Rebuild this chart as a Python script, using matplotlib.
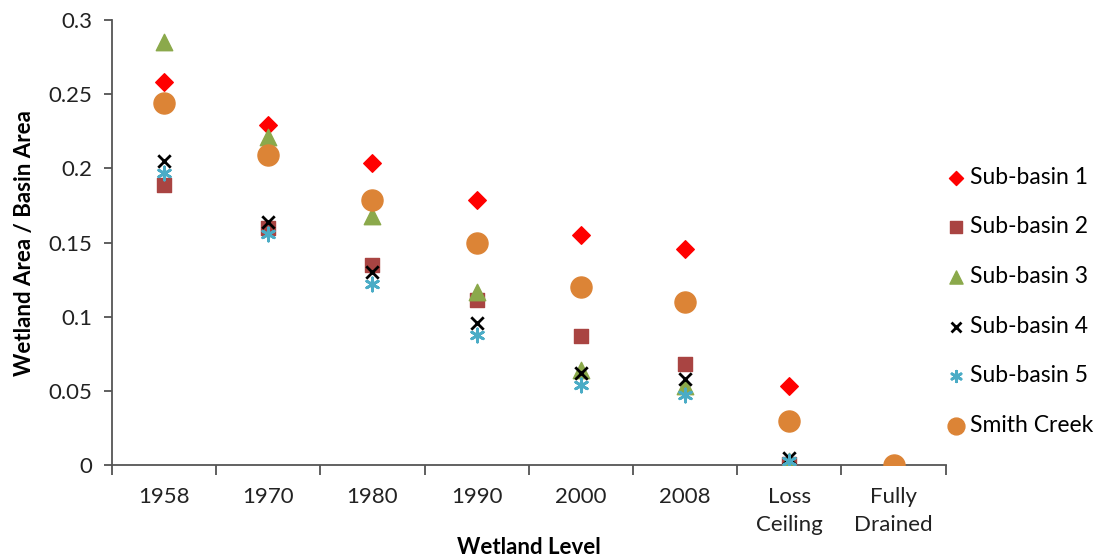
import numpy as np
from matplotlib import pyplot as plt

levels = ['1958', '1970', '1980', '1990', '2000', '2008', 'Loss\nCeiling', 'Fully\nDrained']

sub1 = [0.258, 0.229, 0.204, 0.179, 0.155, 0.146, 0.053, 0.0]
sub2 = [0.189, 0.160, 0.135, 0.111, 0.087, 0.068, 0.001, 0.0]
sub3 = [0.285, 0.221, 0.168, 0.117, 0.064, 0.053, 0.003, 0.0]
sub4 = [0.205, 0.164, 0.130, 0.096, 0.062, 0.058, 0.005, 0.0]
sub5 = [0.197, 0.156, 0.122, 0.088, 0.054, 0.047, 0.003, 0.0]
smith = [0.244, 0.209, 0.179, 0.150, 0.120, 0.110, 0.030, 0.0]

plt.rcParams['font.family'] = ['Lato', 'DejaVu Sans']

fig = plt.figure(figsize=(11.02, 5.59), dpi=100)
ax = fig.add_axes([0.1016, 0.168, 0.7565, 0.796])

x = np.arange(len(levels))
series = [
    ('Sub-basin 1', sub1, dict(marker='D', color='#FF0000', s=80)),
    ('Sub-basin 2', sub2, dict(marker='s', color='#A94442', s=110)),
    ('Sub-basin 3', sub3, dict(marker='^', color='#8BA94B', s=140)),
    ('Sub-basin 4', sub4, dict(marker='x', color='black', s=80, linewidths=2)),
    ('Sub-basin 5', sub5, dict(marker=(6, 2, 0), color='#4BACC6', s=90, linewidths=2)),
    ('Smith Creek', smith, dict(marker='o', color='#DC8436', s=230)),
]
for name, vals, style in series:
    ax.scatter(x, vals, label=name, zorder=3, **style)

ax.set_xlim(-0.5, len(levels) - 0.5)
ax.set_ylim(0, 0.3)
ax.set_yticks(np.arange(0, 0.31, 0.05))
ax.set_yticklabels(['0', '0.05', '0.1', '0.15', '0.2', '0.25', '0.3'])
ax.set_xticks(x)
ax.set_xticklabels(levels, linespacing=1.45)
ax.set_xticks(np.arange(-0.5, len(levels), 1), minor=True)
ax.tick_params(axis='x', which='major', length=0, pad=16, labelsize=16, colors='#222222')
ax.tick_params(axis='x', which='minor', length=7, width=1.2, direction='out', color='#444444')
ax.tick_params(axis='y', length=6, width=1.2, direction='out', labelsize=16, color='#444444',
               labelcolor='#222222', pad=8)

for side in ['top', 'right']:
    ax.spines[side].set_visible(False)
for side in ['left', 'bottom']:
    ax.spines[side].set_color('#555555')
    ax.spines[side].set_linewidth(1.3)

ax.set_ylabel('Wetland Area / Basin Area', fontsize=16, fontweight='bold', labelpad=10)
ax.set_xlabel('Wetland Level', fontsize=16, fontweight='bold', labelpad=2)

leg = ax.legend(loc='center left', bbox_to_anchor=(0.985, 0.368), frameon=False,
                fontsize=16.5, labelspacing=1.25, handletextpad=0.0, handlelength=1.2,
                scatterpoints=1, markerscale=0.8, borderaxespad=0)

fig.savefig('out.png', dpi=100)
